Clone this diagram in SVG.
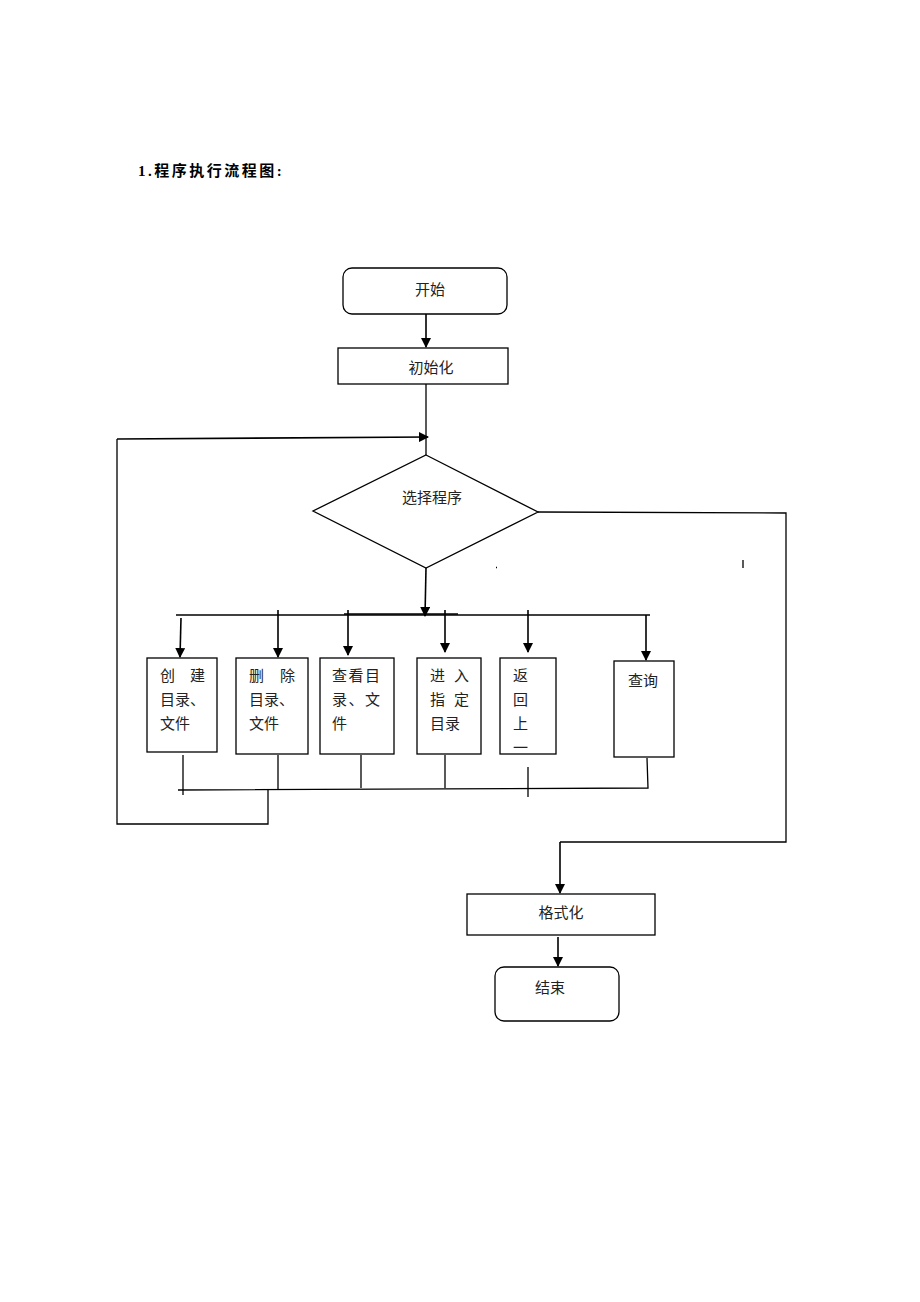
<svg xmlns="http://www.w3.org/2000/svg" width="920" height="1302" viewBox="0 0 920 1302">
<defs>
<marker id="ah" markerWidth="10" markerHeight="10" refX="9" refY="5" orient="auto" markerUnits="userSpaceOnUse">
<path d="M0,0 L10,5 L0,10 Z" fill="#000"/>
</marker>
<style>
.n{fill:#fff;stroke:#000;stroke-width:1.3}
.t{font-family:"Liberation Sans","Noto Sans CJK SC",sans-serif;font-size:15px;fill:#222}
.c{fill:none;stroke:#000;stroke-width:1.3}
.a{fill:none;stroke:#000;stroke-width:1.6;marker-end:url(#ah)}
</style>
</defs>
<rect width="920" height="1302" fill="#fff"/>
<text x="138" y="176" font-family="'Liberation Serif','Noto Sans CJK SC',serif" font-size="15" font-weight="bold" letter-spacing="2.5" fill="#000">1.程序执行流程图:</text>
<g id="connectors">
<line class="a" x1="426" y1="314" x2="426" y2="347"/>
<line class="c" x1="426" y1="384" x2="426" y2="455"/>
<polyline class="c" points="268,789 268,824 117,824 117,439"/>
<line class="a" x1="117" y1="439" x2="428" y2="437"/>
<line class="a" x1="426" y1="568" x2="425" y2="616"/>
<line class="c" x1="176" y1="615" x2="650" y2="615"/>
<line class="c" x1="344" y1="614" x2="458" y2="614" stroke-width="2"/>
<line class="a" x1="181" y1="618" x2="180" y2="657"/>
<line class="a" x1="278" y1="610" x2="278" y2="657"/>
<line class="a" x1="348" y1="610" x2="348" y2="655"/>
<line class="a" x1="445" y1="610" x2="445" y2="652"/>
<line class="a" x1="528" y1="610" x2="528" y2="652"/>
<line class="a" x1="646" y1="615" x2="646" y2="660"/>
<line class="c" x1="183" y1="755" x2="183" y2="795"/>
<line class="c" x1="278" y1="755" x2="278" y2="789"/>
<line class="c" x1="361" y1="755" x2="361" y2="788"/>
<line class="c" x1="445" y1="755" x2="445" y2="788"/>
<line class="c" x1="528" y1="767" x2="528" y2="797"/>
<polyline class="c" points="647,758 648,788 178,790"/>
<polyline class="c" points="538,512 786,513 786,842 560,842"/>
<line class="a" x1="560" y1="842" x2="560" y2="893"/>
<line class="c" x1="743" y1="560" x2="743" y2="568"/>
<line class="c" x1="496" y1="567.5" x2="497" y2="567.5" stroke-width="1"/>
<line class="a" x1="558" y1="937" x2="558" y2="966"/>
</g>
<g id="start">
<rect class="n" x="343" y="268" width="164" height="46" rx="9"/>
<text class="t" x="430" y="295" text-anchor="middle">开始</text>
</g>
<g id="init">
<rect class="n" x="338" y="348" width="170" height="36"/>
<text class="t" x="431" y="373" text-anchor="middle">初始化</text>
</g>
<g id="select">
<polygon class="n" points="426,455 538,512 426,568 313,511"/>
<text class="t" x="432" y="503" text-anchor="middle">选择程序</text>
</g>
<g id="create">
<rect class="n" x="147" y="658" width="70" height="94"/>
<text class="t" x="160" y="681">创</text><text class="t" x="190" y="681">建</text>
<text class="t" x="160" y="705">目录、</text>
<text class="t" x="160" y="729">文件</text>
</g>
<g id="delete">
<rect class="n" x="236" y="658" width="72" height="96"/>
<text class="t" x="249" y="681">删</text><text class="t" x="280" y="681">除</text>
<text class="t" x="249" y="705">目录、</text>
<text class="t" x="249" y="729">文件</text>
</g>
<g id="view">
<rect class="n" x="320" y="658" width="74" height="96"/>
<text class="t" x="332" y="681" letter-spacing="1.5">查看目</text>
<text class="t" x="332" y="705" letter-spacing="1.5">录、文</text>
<text class="t" x="332" y="729">件</text>
</g>
<g id="enter">
<rect class="n" x="417" y="658" width="64" height="96"/>
<text class="t" x="430" y="681">进</text><text class="t" x="454" y="681">入</text>
<text class="t" x="430" y="705">指</text><text class="t" x="454" y="705">定</text>
<text class="t" x="430" y="729">目录</text>
</g>
<g id="back">
<rect class="n" x="500" y="658" width="56" height="96"/>
<text class="t" x="513" y="681">返</text>
<text class="t" x="513" y="705">回</text>
<text class="t" x="513" y="729">上</text>
<text class="t" x="513" y="753">一</text>
</g>
<g id="query">
<rect class="n" x="614" y="661" width="60" height="96"/>
<text class="t" x="628" y="686">查询</text>
</g>
<g id="format">
<rect class="n" x="467" y="894" width="188" height="41"/>
<text class="t" x="561" y="918" text-anchor="middle">格式化</text>
</g>
<g id="end">
<rect class="n" x="495" y="967" width="124" height="54" rx="9"/>
<text class="t" x="550" y="993" text-anchor="middle">结束</text>
</g>
</svg>
